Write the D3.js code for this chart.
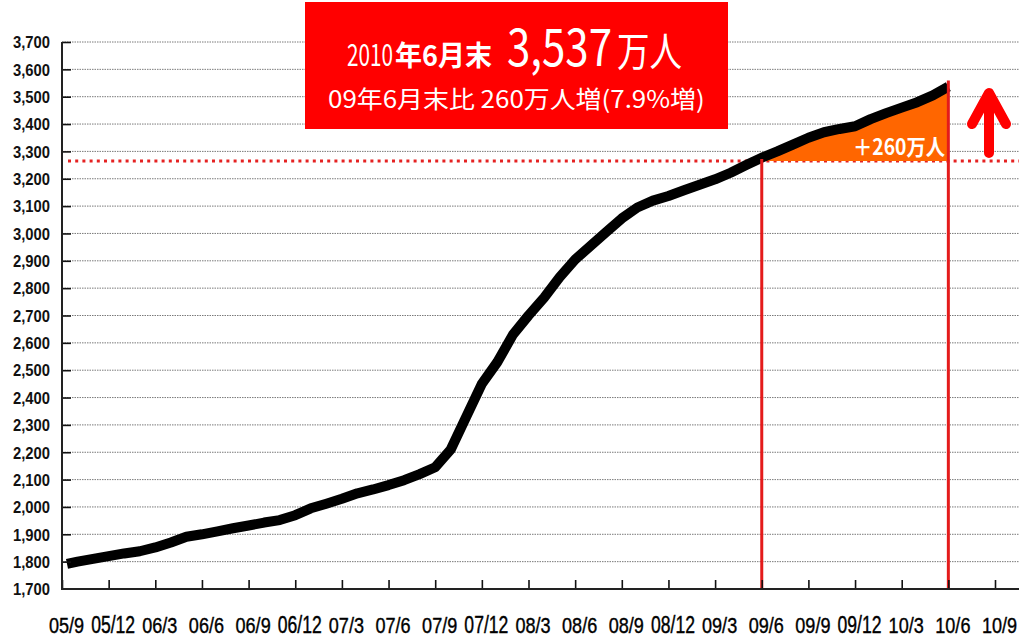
<!DOCTYPE html>
<html>
<head>
<meta charset="utf-8">
<script src="https://cdn.jsdelivr.net/npm/d3@7/dist/d3.min.js"></script>
<style>
  body { margin: 0; background: #fff; }
  svg { display: block; }
  .lab { font-family: "Liberation Sans", Arial, sans-serif; }
  .jp { font-family: "Noto Sans CJK JP", "Noto Sans", sans-serif; }
</style>
</head>
<body>
<div id="chart"></div>
<script>
// monthly figures, 05/9 .. 10/6 (万人)
const months = [
  "05/9","05/10","05/11","05/12","06/1","06/2","06/3","06/4","06/5","06/6","06/7","06/8",
  "06/9","06/10","06/11","06/12","07/1","07/2","07/3","07/4","07/5","07/6","07/7","07/8",
  "07/9","07/10","07/11","07/12","08/1","08/2","08/3","08/4","08/5","08/6","08/7","08/8",
  "08/9","08/10","08/11","08/12","09/1","09/2","09/3","09/4","09/5","09/6","09/7","09/8",
  "09/9","09/10","09/11","09/12","10/1","10/2","10/3","10/4","10/5","10/6"
];
const members = [
  1792, 1800, 1810, 1820, 1830, 1838, 1852, 1870, 1891, 1900, 1911, 1922,
  1932, 1943, 1952, 1970, 1995, 2012, 2030, 2050, 2064, 2080, 2098, 2120,
  2145, 2210, 2330, 2450, 2530, 2630, 2700, 2765, 2840, 2905, 2955, 3005,
  3055, 3095, 3120, 3137, 3158, 3178, 3198, 3222, 3250, 3277, 3300, 3325,
  3350, 3370, 3382, 3392, 3418, 3440, 3460, 3480, 3505, 3537
];
// x axis labels, one every 3 months
const quarterLabels = [
  "05/9","05/12","06/3","06/6","06/9","06/12","07/3","07/6","07/9","07/12","08/3",
  "08/6","08/9","08/12","09/3","09/6","09/9","09/12","10/3","10/6","10/9"
];
const yTickValues = [1700,1800,1900,2000,2100,2200,2300,2400,2500,2600,2700,
                     2800,2900,3000,3100,3200,3300,3400,3500,3600,3700];
// reference level (09年6月末) and comparison span
const baseValue = 3265;
const fromMonth = "09/6";
const toMonth = "10/6";

const width = 1019, height = 640;
const margin = {top: 42, right: 0, bottom: 51, left: 62};
const plotBottom = height - margin.bottom;

const svg = d3.select("#chart").append("svg")
    .attr("width", width)
    .attr("height", height);

/**
 * Squeezes a text horizontally to a given width (narrow gothic look).
 * The text is placed with a transform, so its box stays its real size.
 */
function squeeze(sel, x, y, w) {
    sel.each(function(d, i) {
        let t = d3.select(this).attr("x", 0).attr("y", 0);
        let natural = this.getComputedTextLength();
        let px = typeof x === "function" ? x(d, i) : x;
        let tw = typeof w === "function" ? w(d, i) : w;
        t.attr("transform", "translate(" + px + "," + y + ") scale(" + (tw / natural) + ",1)");
    });
}

let xScale = d3.scaleLinear()
    .domain([0, (quarterLabels.length - 1) * 3])
    .range([margin.left, 995]);

let yScale = d3.scaleLinear()
    .domain([1700, 3700])
    .range([plotBottom, margin.top]);

//dotted grid lines
svg.append("g").selectAll("line")
    .data(yTickValues.slice(1))
    .enter().append("line")
    .attr("x1", margin.left).attr("x2", width)
    .attr("y1", d => yScale(d)).attr("y2", d => yScale(d))
    .attr("stroke", "#7a7a7a")
    .attr("stroke-width", 1)
    .attr("stroke-dasharray", "1.5,1");

// red dotted reference line
svg.append("line")
    .attr("x1", margin.left + 6).attr("x2", width)
    .attr("y1", yScale(baseValue)).attr("y2", yScale(baseValue))
    .attr("stroke", "#e52222")
    .attr("stroke-width", 3)
    .attr("stroke-dasharray", "3,4.2");

// orange increase area
const i0 = months.indexOf(fromMonth), i1 = months.indexOf(toMonth);
const span = d3.range(i0, i1 + 1);
svg.append("path")
    .datum(span)
    .attr("d", d3.area()
        .x(i => xScale(i))
        .y0(yScale(baseValue))
        .y1(i => yScale(members[i])))
    .attr("fill", "#ff6600");

// main line
svg.append("path")
    .datum(members)
    .attr("d", d3.line()
        .x((d, i) => xScale(i) + (i === 0 ? 5 : 0))
        .y(d => yScale(d)))
    .attr("fill", "none")
    .attr("stroke", "#000")
    .attr("stroke-width", 10)
    .attr("stroke-linejoin", "round");

// red verticals at 09/6 and 10/6
svg.append("line")
    .attr("x1", xScale(i0)).attr("x2", xScale(i0))
    .attr("y1", yScale(baseValue) - 2).attr("y2", plotBottom)
    .attr("stroke", "#e41b1b").attr("stroke-width", 3);
svg.append("line")
    .attr("x1", xScale(i1)).attr("x2", xScale(i1))
    .attr("y1", yScale(members[i1]) - 6).attr("y2", plotBottom)
    .attr("stroke", "#e41b1b").attr("stroke-width", 3);

// +260万人 label
svg.append("text")
    .attr("class", "jp")
    .attr("text-anchor", "end")
    .attr("fill", "#fff")
    .attr("font-weight", "bold")
    .attr("font-size", 22)
    .text("＋260万人")
    .call(squeeze, 945, 155, 92);

// y axis
let yAxis = d3.axisLeft(yScale)
    .tickValues(yTickValues)
    .tickSizeInner(-9)
    .tickSizeOuter(0)
    .tickFormat(d3.format(","));
let gy = svg.append("g")
    .attr("transform", "translate(" + margin.left + ",0)")
    .call(yAxis);
gy.select(".domain").remove();
gy.selectAll(".tick line").attr("stroke", "#111").attr("stroke-width", 1.6);
gy.selectAll(".tick text")
    .attr("class", "lab")
    .attr("dy", "0.36em")
    .attr("font-size", 16)
    .attr("font-weight", "bold")
    .attr("fill", "#111")
    .call(squeeze, -12, 0, 37);
gy.select(".tick:first-of-type line").remove();

// x axis
let xAxis = d3.axisBottom(xScale)
    .tickValues(quarterLabels.map((d, i) => i * 3))
    .tickSizeInner(-9)
    .tickSizeOuter(0)
    .tickFormat(i => quarterLabels[i / 3]);
let gx = svg.append("g")
    .attr("transform", "translate(0," + plotBottom + ")")
    .call(xAxis);
gx.select(".domain").remove();
gx.selectAll(".tick line").attr("stroke", "#111").attr("stroke-width", 1.6);
gx.selectAll(".tick text")
    .attr("class", "lab")
    .attr("dy", 0)
    .attr("font-size", 23)
    .attr("fill", "#000")
    .attr("stroke", "#000")
    .attr("stroke-width", 0.4)
    .call(squeeze, 4, 44, d => quarterLabels[d / 3].length * 8.8);

// axis lines
svg.append("line")
    .attr("x1", margin.left).attr("x2", margin.left)
    .attr("y1", margin.top).attr("y2", plotBottom + 1)
    .attr("stroke", "#222").attr("stroke-width", 2);
svg.append("line")
    .attr("x1", margin.left).attr("x2", width)
    .attr("y1", plotBottom).attr("y2", plotBottom)
    .attr("stroke", "#222").attr("stroke-width", 2);

// red up arrow
svg.append("path")
    .attr("d", "M989,153V94M972,124L989,93L1006,124")
    .attr("fill", "none")
    .attr("stroke", "#ff0000")
    .attr("stroke-width", 10)
    .attr("stroke-linecap", "round")
    .attr("stroke-linejoin", "round");

// headline box
svg.append("rect")
    .attr("x", 305).attr("y", 2)
    .attr("width", 423).attr("height", 127)
    .attr("fill", "#ff0000");

const head = [
  {t: "2010",   x: 347, w: 46,  size: 30, bold: false},
  {t: "年6月末", x: 395, w: 97,  size: 28, bold: true},
  {t: "3,537",  x: 507, w: 105, size: 52, bold: false},
  {t: "万人",    x: 617, w: 65,  size: 40, bold: false}
];
svg.append("g").selectAll("text")
    .data(head)
    .enter().append("text")
    .attr("class", "jp")
    .attr("fill", "#fff")
    .attr("font-size", d => d.size)
    .attr("font-weight", d => d.bold ? "bold" : "normal")
    .text(d => d.t)
    .call(squeeze, d => d.x, 66, d => d.w);

svg.append("text")
    .attr("class", "jp")
    .attr("fill", "#fff")
    .attr("font-size", 24)
    .text("09年6月末比 260万人増(7.9%増)")
    .call(squeeze, 328, 108, 377);
</script>
</body>
</html>
